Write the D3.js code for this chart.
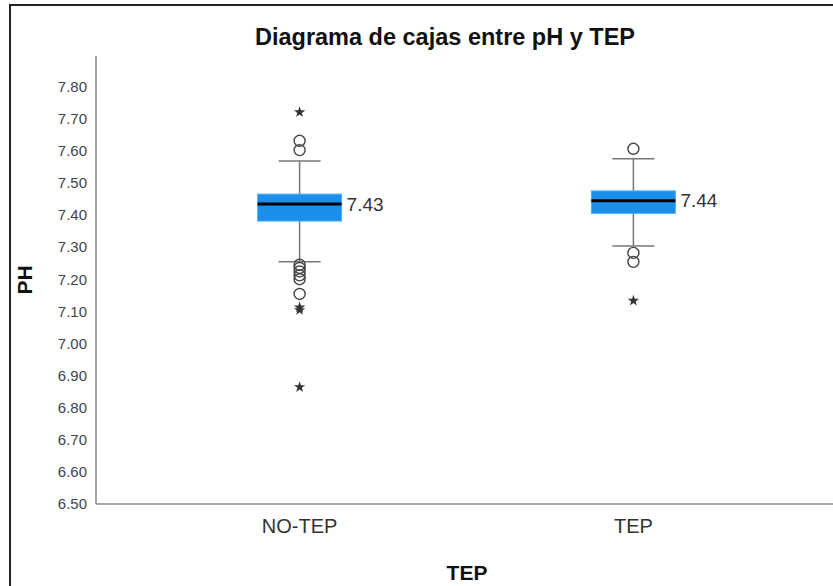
<!DOCTYPE html>
<html>
<head>
<meta charset="utf-8">
<script src="https://cdn.jsdelivr.net/npm/d3@7"></script>
<style>
  body { margin: 0; background: #fff; }
  text { font-family: "Liberation Sans", Arial, sans-serif; }
</style>
</head>
<body>
<script>
// categories and box statistics
const categories = ["NO-TEP", "TEP"];
const q1 = [7.381, 7.405];
const median = [7.434, 7.444];
const q3 = [7.465, 7.475];
const whiskerLow = [7.254, 7.303];
const whiskerHigh = [7.568, 7.575];
// outliers (circles) and extremes (stars) per category
const outliers = [
  [7.631, 7.602, 7.245, 7.235, 7.224, 7.212, 7.200, 7.154],
  [7.606, 7.282, 7.254]
];
const extremes = [
  [7.720, 7.112, 7.104, 6.864],
  [7.133]
];
const yTicks = [6.5, 6.6, 6.7, 6.8, 6.9, 7.0, 7.1, 7.2, 7.3, 7.4, 7.5, 7.6, 7.7, 7.8];

var width = 833, height = 586;

var svg = d3.select("body").append("svg")
    .attr("width", width)
    .attr("height", height);

// outer frame (cut off right and bottom)
svg.append("path")
    .attr("d", "M10,600V5H840")
    .attr("fill", "none")
    .attr("stroke", "#222")
    .attr("stroke-width", 2);

var x = d3.scalePoint()
    .domain(categories)
    .range([96, 837])
    .padding(0.61);

var y = d3.scaleLinear()
    .domain([6.5, 7.895])
    .range([504, 56]);

// axes lines
svg.append("line")
    .attr("x1", 96).attr("x2", 96)
    .attr("y1", y(7.895)).attr("y2", y(6.5))
    .attr("stroke", "#888").attr("stroke-width", 1.5);
svg.append("line")
    .attr("x1", 96).attr("x2", 840)
    .attr("y1", y(6.5)).attr("y2", y(6.5))
    .attr("stroke", "#888").attr("stroke-width", 1.5);

// y tick labels (no tick marks)
const yAxis = d3.axisLeft(y)
    .tickValues(yTicks)
    .tickSize(0)
    .tickPadding(9)
    .tickFormat(d3.format(".2f"));
svg.append("g")
    .attr("transform", "translate(96,0)")
    .call(yAxis)
    .call(g => g.select(".domain").remove())
    .selectAll("text")
    .attr("font-size", 15)
    .attr("fill", "#444")
    .style("font-family", "Liberation Sans, Arial, sans-serif");

// x tick labels
svg.selectAll("text.xlab")
    .data(categories)
    .enter().append("text")
    .attr("class", "xlab")
    .attr("x", d => x(d))
    .attr("y", 533)
    .attr("text-anchor", "middle")
    .attr("font-size", 20)
    .attr("fill", "#333")
    .text(d => d);

// title and axis titles
svg.append("text")
    .attr("x", 445).attr("y", 45)
    .attr("text-anchor", "middle")
    .attr("font-size", 23.5)
    .attr("font-weight", "bold")
    .attr("fill", "#111")
    .text("Diagrama de cajas entre pH y TEP");

svg.append("text")
    .attr("x", 467).attr("y", 580)
    .attr("text-anchor", "middle")
    .attr("font-size", 21)
    .attr("font-weight", "bold")
    .attr("fill", "#111")
    .text("TEP");

svg.append("text")
    .attr("transform", "translate(32,280) rotate(-90)")
    .attr("text-anchor", "middle")
    .attr("font-size", 21)
    .attr("font-weight", "bold")
    .attr("fill", "#111")
    .text("PH");

var boxW = 84, capW = 42;

var boxes = svg.selectAll("g.box")
    .data(categories)
    .enter().append("g")
    .attr("class", "box");

// whiskers
boxes.append("line")
    .attr("x1", d => x(d)).attr("x2", d => x(d))
    .attr("y1", (d, i) => y(whiskerHigh[i]))
    .attr("y2", (d, i) => y(whiskerLow[i]))
    .attr("stroke", "#777").attr("stroke-width", 1.5);
boxes.append("line")
    .attr("x1", d => x(d) - capW / 2).attr("x2", d => x(d) + capW / 2)
    .attr("y1", (d, i) => y(whiskerHigh[i]))
    .attr("y2", (d, i) => y(whiskerHigh[i]))
    .attr("stroke", "#777").attr("stroke-width", 1.5);
boxes.append("line")
    .attr("x1", d => x(d) - capW / 2).attr("x2", d => x(d) + capW / 2)
    .attr("y1", (d, i) => y(whiskerLow[i]))
    .attr("y2", (d, i) => y(whiskerLow[i]))
    .attr("stroke", "#777").attr("stroke-width", 1.5);

// box
boxes.append("rect")
    .attr("x", d => x(d) - boxW / 2)
    .attr("width", boxW)
    .attr("y", (d, i) => y(q3[i]))
    .attr("height", (d, i) => y(q1[i]) - y(q3[i]))
    .attr("fill", "#1b8fec")
    .attr("stroke", "#55adf2")
    .attr("stroke-width", 1);

// median
boxes.append("line")
    .attr("x1", d => x(d) - boxW / 2).attr("x2", d => x(d) + boxW / 2)
    .attr("y1", (d, i) => y(median[i]))
    .attr("y2", (d, i) => y(median[i]))
    .attr("stroke", "#000").attr("stroke-width", 3);

boxes.append("text")
    .attr("x", d => x(d) + boxW / 2 + 5)
    .attr("y", (d, i) => y(median[i]))
    .attr("dy", "0.35em")
    .attr("font-size", 19)
    .attr("fill", "#333")
    .text((d, i) => d3.format(".2f")(median[i]));

// outlier circles and extreme stars
boxes.each(function (d, i) {
    d3.select(this).selectAll("circle")
        .data(outliers[i])
        .enter().append("circle")
        .attr("cx", x(d))
        .attr("cy", v => y(v))
        .attr("r", 5.5)
        .attr("fill", "none")
        .attr("stroke", "#444")
        .attr("stroke-width", 1.4);

    d3.select(this).selectAll("path.star")
        .data(extremes[i])
        .enter().append("path")
        .attr("class", "star")
        .attr("transform", v => "translate(" + x(d) + "," + y(v) + ")")
        .attr("d", d3.symbol().type(d3.symbolStar).size(40))
        .attr("fill", "#333");
});
</script>
</body>
</html>
